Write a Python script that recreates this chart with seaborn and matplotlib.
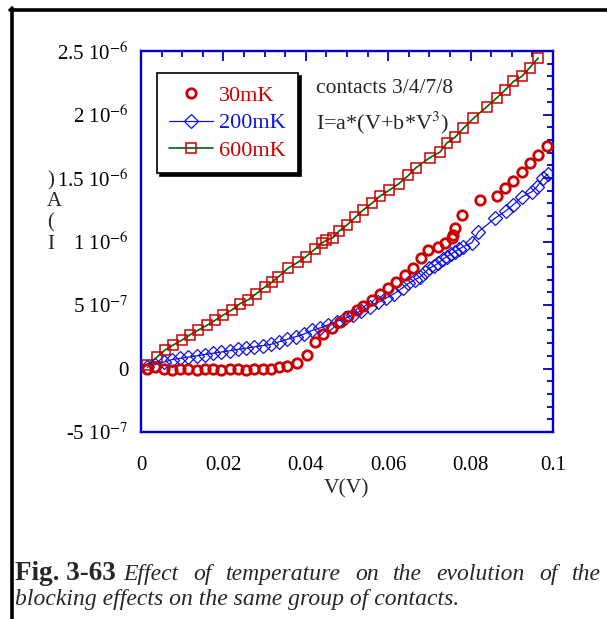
import matplotlib
matplotlib.use("Agg")
import matplotlib.pyplot as plt
import seaborn as sns
from matplotlib.lines import Line2D

# ---------------- data (V in volts, I in units of 1e-6 A) ----------------
v_30mK = [0.0015, 0.0035, 0.0055, 0.0075, 0.0095, 0.0115, 0.0135, 0.0155, 0.0175, 0.0195,
          0.0215, 0.0235, 0.0255, 0.0275, 0.0295, 0.0315, 0.0335, 0.0355, 0.0378, 0.0403,
          0.0422, 0.0442, 0.0464, 0.0483, 0.0502, 0.0524, 0.0540, 0.0560, 0.0580, 0.0600,
          0.0620, 0.0640, 0.0660, 0.0680, 0.0697, 0.0720, 0.0738, 0.0755, 0.0757, 0.0762,
          0.0780, 0.0823, 0.0863, 0.0883, 0.0904, 0.0924, 0.0944, 0.0964, 0.0985]
i_30mK = [0.00, 0.01, 0.00, -0.01, 0.00, 0.00, -0.01, 0.00, 0.00, -0.01,
          0.00, 0.00, -0.01, 0.00, 0.00, 0.00, 0.01, 0.02, 0.04, 0.11,
          0.21, 0.27, 0.32, 0.37, 0.41, 0.46, 0.49, 0.54, 0.59, 0.63,
          0.68, 0.735, 0.79, 0.87, 0.93, 0.96, 0.99, 1.03, 1.05, 1.11,
          1.21, 1.33, 1.36, 1.42, 1.48, 1.55, 1.62, 1.68, 1.75]

v_200mK = [0.0015, 0.0035, 0.0055, 0.0075, 0.0095, 0.0115, 0.0135, 0.0155, 0.0175, 0.0195,
           0.0215, 0.0235, 0.0255, 0.0275, 0.0295, 0.0315, 0.0335, 0.0355, 0.0375, 0.0395,
           0.0415, 0.0435, 0.0455, 0.0475, 0.0495, 0.0515, 0.0535, 0.0555, 0.0575, 0.0595,
           0.0615, 0.0635, 0.0649, 0.0665, 0.0677, 0.0690, 0.0700, 0.0712, 0.0722, 0.0732,
           0.0742, 0.0752, 0.0762, 0.0772, 0.0782, 0.0803, 0.0819, 0.0860, 0.0885, 0.0904,
           0.0924, 0.0948, 0.0961, 0.0976, 0.0988]
i_200mK = [0.01, 0.03, 0.05, 0.07, 0.08, 0.09, 0.10, 0.11, 0.12, 0.13,
           0.14, 0.15, 0.16, 0.17, 0.18, 0.19, 0.21, 0.23, 0.25, 0.27,
           0.30, 0.32, 0.345, 0.37, 0.395, 0.425, 0.455, 0.485, 0.52, 0.555,
           0.59, 0.635, 0.67, 0.70, 0.72, 0.76, 0.79, 0.81, 0.83, 0.86,
           0.88, 0.90, 0.92, 0.94, 0.96, 0.99, 1.077, 1.185, 1.24, 1.29,
           1.35, 1.39, 1.43, 1.50, 1.53]

v_600mK = [0.0015, 0.0039, 0.0058, 0.0078, 0.0100, 0.0119, 0.0138, 0.0160, 0.0180, 0.0199,
           0.0220, 0.0240, 0.0260, 0.0280, 0.0300, 0.0318, 0.0333, 0.0357, 0.0380, 0.0400,
           0.0422, 0.0440, 0.0450, 0.0466, 0.0480, 0.0500, 0.0520, 0.0540, 0.0560, 0.0580,
           0.0603, 0.0625, 0.0649, 0.0667, 0.0701, 0.0726, 0.0742, 0.0762, 0.0782, 0.0807,
           0.0839, 0.0863, 0.0883, 0.0904, 0.0924, 0.0944, 0.0964]
i_600mK = [0.03, 0.09, 0.145, 0.185, 0.225, 0.265, 0.30, 0.34, 0.38, 0.42,
           0.46, 0.51, 0.54, 0.59, 0.64, 0.68, 0.72, 0.79, 0.835, 0.88,
           0.94, 0.99, 1.01, 1.03, 1.08, 1.13, 1.19, 1.25, 1.30, 1.357,
           1.405, 1.453, 1.52, 1.58, 1.66, 1.705, 1.775, 1.82, 1.89, 1.97,
           2.06, 2.13, 2.19, 2.26, 2.30, 2.37, 2.445]

series_labels = ["30mK", "200mK", "600mK"]
x_ticks = [0, 0.02, 0.04, 0.06, 0.08, 0.1]
x_ticklabels = ["0", "0.02", "0.04", "0.06", "0.08", "0.1"]
y_ticks = [-0.5, 0, 0.5, 1.0, 1.5, 2.0, 2.5]
y_ticklabels = ["-5 10$^{-7}$", "0", "5 10$^{-7}$", "1 10$^{-6}$",
                "1.5 10$^{-6}$", "2 10$^{-6}$", "2.5 10$^{-6}$"]

# ---------------- style ----------------
sns.set_style("white")
plt.rcParams["font.family"] = ["Liberation Serif", "DejaVu Serif"]
plt.rcParams["mathtext.fontset"] = "stix"

RED = "#cc0000"
BLUE = "#1010e0"
GREEN = "#006400"
AXBLUE = "#0000cc"

W, H = 607, 619
def fx(x):
    return x / W
def fy(y):
    return 1 - y / H

fig = plt.figure(figsize=(W / 100, H / 100), dpi=100)
fig.patch.set_facecolor("white")
ax = fig.add_axes([fx(141), fy(432), (553 - 141) / W, (432 - 51) / H])

sns.lineplot(x=v_600mK, y=i_600mK, ax=ax, sort=False, estimator=None,
             color=GREEN, lw=1.2, marker="s", markersize=6.8, mfc="none",
             mec=RED, mew=1.1, label=series_labels[2], zorder=3)
sns.lineplot(x=v_200mK, y=i_200mK, ax=ax, sort=False, estimator=None,
             color=BLUE, lw=0.9, marker="D", markersize=7.5, mfc="none",
             mec=BLUE, mew=0.9, label=series_labels[1], zorder=4)
sns.lineplot(x=v_30mK, y=i_30mK, ax=ax, sort=False, estimator=None,
             linestyle="none", marker="o", markersize=6.8, mfc="none",
             mec=RED, mew=2.0, label=series_labels[0], zorder=5)

ax.set_xlim(0, 0.1)
ax.set_ylim(-0.5, 2.5)
ax.set_xticks(x_ticks)
ax.set_xticklabels(x_ticklabels)
ax.set_yticks(y_ticks)
ax.set_yticklabels(y_ticklabels)
ax.xaxis.set_minor_locator(matplotlib.ticker.MultipleLocator(0.005))
ax.yaxis.set_minor_locator(matplotlib.ticker.MultipleLocator(0.1))
ax.tick_params(which="both", direction="in", top=True, right=True,
               colors=AXBLUE, labelcolor="black", labelsize=15)
ax.tick_params(which="major", length=7, width=1.3)
ax.tick_params(which="minor", length=4, width=1.3)
ax.tick_params(axis="y", which="major", pad=9)
ax.tick_params(axis="x", which="major", pad=17)
for s in ax.spines.values():
    s.set_color(AXBLUE)
    s.set_linewidth(1.7)
ax.grid(False)

ax.set_xlabel("V(V)", fontsize=15.5)
ax.xaxis.set_label_coords(0.5, -(489 - 432) / 381)
ax.xaxis.label.set_va("center")
ax.set_ylabel("")

# legend
handles, labels = ax.get_legend_handles_labels()
order = [labels.index(l) for l in series_labels]
leg = ax.legend([handles[i] for i in order], [labels[i] for i in order],
                loc="upper left", bbox_to_anchor=((157 - 141) / 412, 1 - (73 - 51) / 381),
                borderaxespad=0, frameon=True, fancybox=False,
                shadow={"color": "black", "alpha": 1}, edgecolor="black",
                fontsize=16, handlelength=1.95, handletextpad=0.3,
                borderpad=0.55, labelspacing=0.32)
leg.get_frame().set_linewidth(1.2)
leg.get_frame().set_alpha(1)
for t, c in zip(leg.get_texts(), [RED, BLUE, RED]):
    t.set_color(c)

# annotations
fig.text(fx(316), fy(93), "contacts 3/4/7/8", fontsize=15.5, va="baseline")
fig.text(fx(316), fy(129), "I=a*(V+b*V$^{3}$)", fontsize=16, va="baseline")

# stacked y label
fig.text(fx(47), fy(171), ")\nA\n(\nI", fontsize=15, va="top", ha="left",
         linespacing=1.15)

# frame lines
fig.add_artist(Line2D([fx(10), 1], [fy(9.5), fy(9.5)], color="black", lw=2.6))
fig.add_artist(Line2D([fx(12), fx(12)], [fy(8), 0], color="black", lw=2.6))

# caption
fig.canvas.draw()
renderer = fig.canvas.get_renderer()
t0 = fig.text(fx(15), fy(580), "Fig. 3-63", fontsize=19.5, fontweight="bold",
              va="baseline", ha="left")
bb0 = t0.get_window_extent(renderer)
words = "Effect of temperature on the evolution of the".split()
wtexts = [fig.text(0, fy(580), w, fontsize=17, style="italic", va="baseline")
          for w in words]
widths = [t.get_window_extent(renderer).width for t in wtexts]
start = bb0.x1 + 8
gap = (601 - start - sum(widths)) / (len(words) - 1)
xpos = start
for t, wdt in zip(wtexts, widths):
    t.set_x(xpos / W)
    xpos += wdt + gap
fig.text(fx(15), fy(605), "blocking effects on the same group of contacts.",
         fontsize=17, style="italic", va="baseline")

fig.savefig("out.png", dpi=100)
